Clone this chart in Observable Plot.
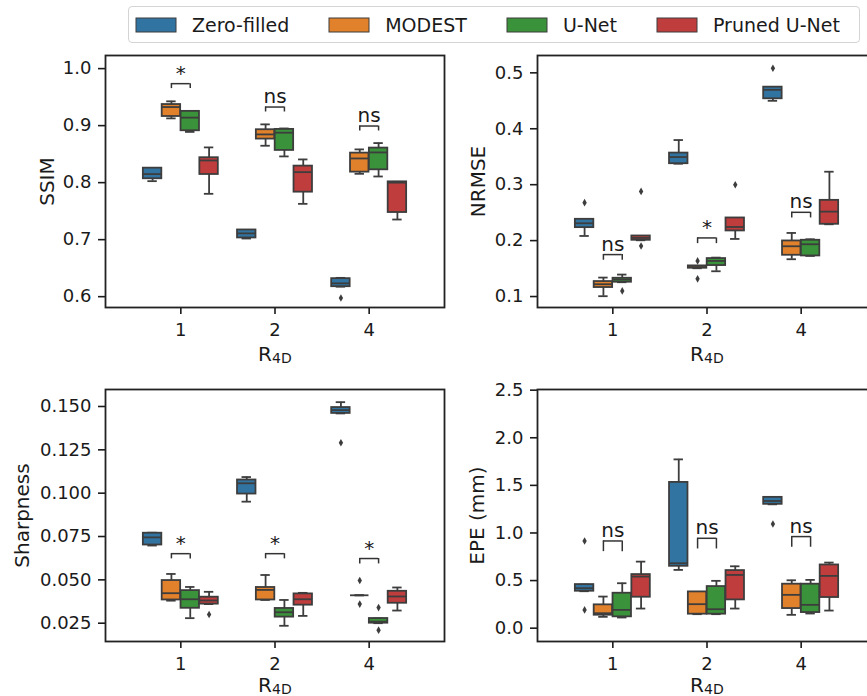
<!DOCTYPE html>
<html><head><meta charset="utf-8">
<script src="https://cdn.jsdelivr.net/npm/d3@7"></script>
<script src="https://cdn.jsdelivr.net/npm/@observablehq/plot@0.6"></script>
<style>
html,body{margin:0;padding:0;background:#fff;}
#fig{position:relative;width:867px;height:696px;overflow:hidden;font-family:"DejaVu Sans",sans-serif;color:#1a1a1a;}
.panel{position:absolute;}
#legend{position:absolute;left:128px;top:6px;width:732px;height:37px;border:1px solid #d4d4d4;border-radius:4px;box-sizing:border-box;padding-left:7px;display:flex;align-items:center;background:#fff;}
#legend .lg-swatches{font-family:"DejaVu Sans",sans-serif;font-size:19px;margin:0;min-height:0;color:#1a1a1a;flex:1 0 auto;width:100%;}
#legend .lg-swatches-wrap{flex-wrap:nowrap;white-space:nowrap;}
#legend .lg-swatch{margin-right:40px;flex:0 0 auto;}
#legend .lg-swatch > svg{margin-right:16px;}
#legend .lg-swatch rect{stroke:#3d3d3d;stroke-width:1px;}
</style></head>
<body><div id="fig"></div>
<script>
// ---- categories ----
const ratios = ["1", "2", "4"];
const methods = ["Zero-filled", "MODEST", "U-Net", "Pruned U-Net"];
const colors = ["#3274a1", "#e1812c", "#3a923a", "#c03d3e"];

// ---- box stats: [whiskerLow, q1, median, q3, whiskerHigh], order: R=1 (4 methods), R=2, R=4 ----
const ssimBoxes = [
  [0.8026, 0.8068, 0.8150, 0.8254, 0.8254],
  [0.9127, 0.9160, 0.9326, 0.9370, 0.9426],
  [0.8890, 0.8910, 0.9140, 0.9250, 0.9250],
  [0.7804, 0.8143, 0.8389, 0.8437, 0.8618],
  [0.7020, 0.7030, 0.7110, 0.7170, 0.7170],
  [0.8647, 0.8764, 0.8846, 0.8928, 0.9022],
  [0.8460, 0.8565, 0.8876, 0.8934, 0.8950],
  [0.7628, 0.7833, 0.8184, 0.8290, 0.8407],
  [0.6175, 0.6175, 0.6234, 0.6316, 0.6330],
  [0.8155, 0.8184, 0.8424, 0.8518, 0.8583],
  [0.8108, 0.8225, 0.8530, 0.8606, 0.8694],
  [0.7353, 0.7476, 0.8000, 0.8014, 0.8014]
];
const ssimOutliers = [[2, 0, 0.5976]]; // [ratio index, method index, value]
const ssimBrackets = [[0, 0.9736, 0.9649, "*"], [1, 0.9326, 0.9239, "ns"], [2, 0.8993, 0.8906, "ns"]];
const ssimTicks = [0.6, 0.7, 0.8, 0.9, 1.0];

const nrmseBoxes = [
  [0.2083, 0.2232, 0.2310, 0.2381, 0.2381],
  [0.1006, 0.1161, 0.1220, 0.1268, 0.1339],
  [0.1256, 0.1256, 0.1304, 0.1327, 0.1393],
  [0.2006, 0.2006, 0.2048, 0.2083, 0.2083],
  [0.3375, 0.3375, 0.3494, 0.3565, 0.3798],
  [0.1506, 0.1506, 0.1527, 0.1548, 0.1548],
  [0.1452, 0.1554, 0.1637, 0.1679, 0.1696],
  [0.2030, 0.2173, 0.2244, 0.2405, 0.2405],
  [0.4500, 0.4536, 0.4696, 0.4744, 0.4744],
  [0.1667, 0.1738, 0.1899, 0.1994, 0.2137],
  [0.1726, 0.1726, 0.1935, 0.2006, 0.2024],
  [0.2292, 0.2292, 0.2518, 0.2720, 0.3232]
];
const nrmseOutliers = [[0, 0, 0.2679], [0, 2, 0.1101], [0, 3, 0.2880], [0, 3, 0.1905],
  [1, 1, 0.1637], [1, 1, 0.1316], [1, 3, 0.3000], [2, 0, 0.5083]];
const nrmseBrackets = [[0, 0.1750, 0.1649, "ns"], [1, 0.2048, 0.1946, "*"], [2, 0.2506, 0.2405, "ns"]];
const nrmseTicks = [0.1, 0.2, 0.3, 0.4, 0.5];

const sharpBoxes = [
  [0.0698, 0.0701, 0.0745, 0.0769, 0.0772],
  [0.0380, 0.0384, 0.0423, 0.0496, 0.0534],
  [0.0279, 0.0336, 0.0388, 0.0438, 0.0459],
  [0.0360, 0.0360, 0.0381, 0.0400, 0.0431],
  [0.0951, 0.0995, 0.1057, 0.1076, 0.1093],
  [0.0384, 0.0384, 0.0442, 0.0456, 0.0528],
  [0.0235, 0.0285, 0.0313, 0.0335, 0.0384],
  [0.0292, 0.0354, 0.0388, 0.0419, 0.0425],
  [0.1460, 0.1460, 0.1479, 0.1494, 0.1525],
  [0.0411, 0.0411, 0.0411, 0.0411, 0.0411],
  [0.0250, 0.0250, 0.0259, 0.0277, 0.0277],
  [0.0323, 0.0365, 0.0404, 0.0434, 0.0456]
];
const sharpOutliers = [[0, 3, 0.0300], [2, 0, 0.1291], [2, 1, 0.0496], [2, 1, 0.0360], [2, 2, 0.0340], [2, 2, 0.0210]];
const sharpBrackets = [[0, 0.0651, 0.0621, "*"], [1, 0.0651, 0.0621, "*"], [2, 0.0623, 0.0592, "*"]];
const sharpTicks = [0.025, 0.050, 0.075, 0.100, 0.125, 0.150];

const epeBoxes = [
  [0.388, 0.388, 0.420, 0.458, 0.458],
  [0.119, 0.136, 0.157, 0.245, 0.332],
  [0.112, 0.119, 0.192, 0.367, 0.472],
  [0.206, 0.325, 0.542, 0.563, 0.699],
  [0.612, 0.650, 0.682, 1.531, 1.773],
  [0.147, 0.147, 0.252, 0.381, 0.381],
  [0.147, 0.147, 0.199, 0.437, 0.497],
  [0.206, 0.297, 0.559, 0.605, 0.650],
  [1.301, 1.301, 1.336, 1.374, 1.374],
  [0.140, 0.206, 0.350, 0.462, 0.503],
  [0.154, 0.164, 0.245, 0.462, 0.507],
  [0.185, 0.322, 0.549, 0.664, 0.689]
];
const epeOutliers = [[0, 0, 0.916], [0, 0, 0.192], [2, 0, 1.094]];
const epeBrackets = [[0, 0.916, 0.804, "ns"], [1, 0.944, 0.832, "ns"], [2, 0.962, 0.850, "ns"]];
const epeTicks = [0.0, 0.5, 1.0, 1.5, 2.0, 2.5];

// ---- drawing ----
const INK = "#3d3d3d";
const FRAME = "#222";
const off = (m) => -0.3 + 0.2 * m;
const HW = 0.098, CAP = 0.05, BR = 0.1;

function panel({boxes, outliers, brackets, ticks, fmt, domain, label, labelDx, xLabelDy, left, top, marginLeft, marginTop, marginBottom}) {
  const rows = boxes.map((b, k) => ({g: Math.floor(k / 4), m: k % 4, lo: b[0], q1: b[1], med: b[2], q3: b[3], hi: b[4]}));
  const cx = (d) => d.g + off(d.m);
  const outs = outliers.map(([g, m, v]) => ({g, m, v}));
  const brs = brackets.map(([g, topv, bot, text]) => ({g, top: topv, bot, text}));
  const legs = brs.flatMap((d) => [{...d, x: d.g - BR}, {...d, x: d.g + BR}]);
  const frameW = 339, frameH = 252;
  const marginRight = 14;
  const chart = Plot.plot({
    width: marginLeft + frameW + marginRight,
    height: marginTop + frameH + marginBottom,
    marginLeft, marginRight, marginTop, marginBottom,
    style: {fontFamily: "DejaVu Sans, sans-serif", color: "#1a1a1a", background: "transparent", overflow: "visible"},
    x: {domain: [-0.8, 2.8]},
    y: {domain},
    marks: [
      Plot.axisX({ticks: [0, 1, 2], tickFormat: (i) => ratios[i], tickSize: 7, tickPadding: 9, fontSize: 18, strokeWidth: 1.6, label: null}),
      Plot.axisY({ticks, tickFormat: fmt, tickSize: 7, tickPadding: 7, fontSize: 18, strokeWidth: 1.6, label: null}),
      Plot.ruleX(rows, {x: cx, y1: "lo", y2: "q1", stroke: INK, strokeWidth: 1.8}),
      Plot.ruleX(rows, {x: cx, y1: "q3", y2: "hi", stroke: INK, strokeWidth: 1.8}),
      Plot.ruleY(rows, {y: "lo", x1: (d) => cx(d) - CAP, x2: (d) => cx(d) + CAP, stroke: INK, strokeWidth: 1.8}),
      Plot.ruleY(rows, {y: "hi", x1: (d) => cx(d) - CAP, x2: (d) => cx(d) + CAP, stroke: INK, strokeWidth: 1.8}),
      Plot.rect(rows, {x1: (d) => cx(d) - HW, x2: (d) => cx(d) + HW, y1: "q1", y2: "q3", fill: (d) => colors[d.m], stroke: INK, strokeWidth: 1.8}),
      Plot.ruleY(rows, {y: "med", x1: (d) => cx(d) - HW, x2: (d) => cx(d) + HW, stroke: INK, strokeWidth: 1.8}),
      Plot.dot(outs, {x: (d) => d.g + off(d.m), y: "v", symbol: "diamond", r: 2.3, fill: INK, stroke: null}),
      Plot.ruleY(brs, {y: "top", x1: (d) => d.g - BR, x2: (d) => d.g + BR, stroke: "#333", strokeWidth: 1.5}),
      Plot.ruleX(legs, {x: "x", y1: "bot", y2: "top", stroke: "#333", strokeWidth: 1.5}),
      Plot.text(brs, {x: "g", y: "top", text: "text", lineAnchor: "bottom", dy: -4, fontSize: 20, fill: "#1a1a1a"}),
      Plot.text([label], {frameAnchor: "left", rotate: -90, dx: labelDx, text: (d) => d, fontSize: 20, lineAnchor: "middle", textAnchor: "middle", fill: "#1a1a1a"}),
      Plot.text(["R"], {frameAnchor: "bottom", dy: xLabelDy, dx: -3, text: (d) => d, fontSize: 20, lineAnchor: "bottom", textAnchor: "end", fill: "#1a1a1a"}),
      Plot.text(["4D"], {frameAnchor: "bottom", dy: xLabelDy + 2, dx: -3, text: (d) => d, fontSize: 14, lineAnchor: "bottom", textAnchor: "start", fill: "#1a1a1a"}),
      Plot.frame({stroke: FRAME, strokeWidth: 1.8})
    ]
  });
  chart.classList.add("panel");
  chart.style.left = left + "px";
  chart.style.top = top + "px";
  chart.style.position = "absolute";
  return chart;
}

const fig = document.getElementById("fig");

const legendBox = document.createElement("div");
legendBox.id = "legend";
legendBox.appendChild(Plot.legend({
  color: {type: "ordinal", domain: methods, range: colors},
  legend: "swatches", swatchWidth: 40, swatchHeight: 14, className: "lg"
}));
fig.appendChild(legendBox);

fig.appendChild(panel({boxes: ssimBoxes, outliers: ssimOutliers, brackets: ssimBrackets, ticks: ssimTicks, fmt: ".1f",
  domain: [0.581, 1.023], label: "SSIM", labelDx: -58, xLabelDy: 53, left: 0, top: 48, marginLeft: 105, marginTop: 7, marginBottom: 62}));
fig.appendChild(panel({boxes: nrmseBoxes, outliers: nrmseOutliers, brackets: nrmseBrackets, ticks: nrmseTicks, fmt: ".1f",
  domain: [0.0804, 0.531], label: "NRMSE", labelDx: -59, xLabelDy: 53, left: 450, top: 48, marginLeft: 87, marginTop: 7, marginBottom: 62}));
fig.appendChild(panel({boxes: sharpBoxes, outliers: sharpOutliers, brackets: sharpBrackets, ticks: sharpTicks, fmt: ".3f",
  domain: [0.01444, 0.1598], label: "Sharpness", labelDx: -83, xLabelDy: 50, left: 0, top: 375, marginLeft: 105, marginTop: 14, marginBottom: 62}));
fig.appendChild(panel({boxes: epeBoxes, outliers: epeOutliers, brackets: epeBrackets, ticks: epeTicks, fmt: ".1f",
  domain: [-0.14, 2.507], label: "EPE (mm)", labelDx: -60, xLabelDy: 50, left: 450, top: 375, marginLeft: 87, marginTop: 14, marginBottom: 62}));
</script>
</body></html>
